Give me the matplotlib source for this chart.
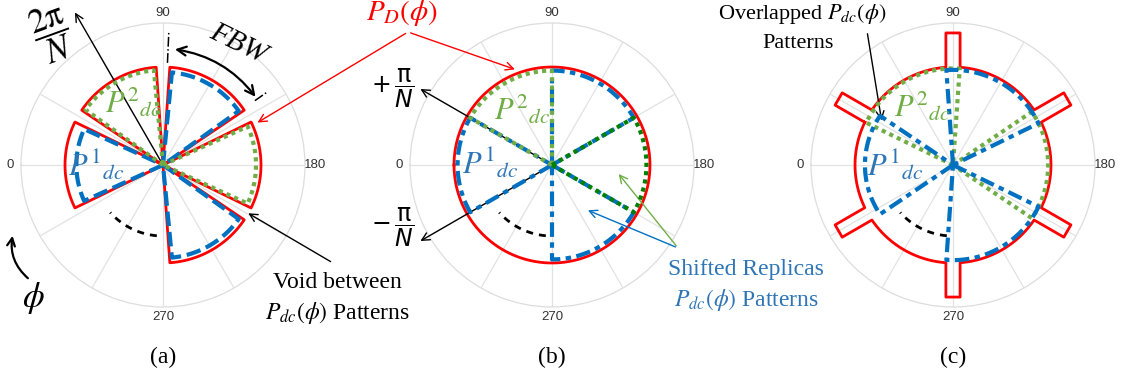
import numpy as np
import matplotlib
matplotlib.use('Agg')
import matplotlib.pyplot as plt

plt.rcParams['font.family'] = ['Liberation Serif', 'DejaVu Serif']
plt.rcParams['mathtext.fontset'] = 'stix'

# ---- data (angles in degrees, radius relative to outer ring = 1) ----
# panel (a): separated sectors, the one at 300 deg is left out
a_blue_centers = [0, 120, 240]
a_blue_radii = [0.61, 0.655, 0.655]
a_green_centers = [60, 180]
a_green_radii = [0.67, 0.655]
a_red_centers = [0, 60, 120, 180, 240]
a_red_radius = 0.69
a_red_width = 52
a_pat_width = 49

# panel (b): shifted replicas filling the circle
b_blue_centers = [0, 120, 240]
b_green_centers = [60, 180]
b_green_colors = ['#70AD47', '#008000']
b_width = 60
b_pat_radius = 0.665
b_red_radius = 0.69

# panel (c): overlapping patterns, red with lobes at the overlaps
c_blue_centers = [0, 120, 240]
c_blue_radii = [0.62, 0.67, 0.67]
c_green_centers = [60, 180]
c_green_radii = [0.68, 0.67]
c_width = 68
c_red_radius = 0.69
c_lobe_angles = [30, 90, 150, 210, 270, 330]
c_lobe_length = 0.93
c_lobe_half = 0.05

# dashed "continues" arc (same in every panel)
cont_arc = (275, 318)
cont_radius = 0.5

grid_angles = list(range(0, 360, 30))
grid_labels = ['0', '', '', '90', '', '', '180', '', '', '270', '', '']

RED = '#FF0000'
BLUE = '#0070C0'
BLUE_TXT = '#2E75B6'
GREEN = '#70AD47'

W, H = 1123, 385


def fx(x, y):
    # pixel position -> figure fraction
    return (x / W, 1 - y / H)


def sector(c, w, r, n=80):
    t = np.linspace(c - w / 2, c + w / 2, n)
    th = np.r_[c - w / 2, t, c + w / 2]
    rr = np.r_[0, np.full(n, r), 0]
    return np.deg2rad(th), rr


def arc(t1, t2, r, n=80):
    t = np.linspace(t1, t2, n)
    return np.deg2rad(t), np.full(n, r)


def lobed_circle(R, lobes, L, h, n=20):
    d = np.degrees(np.arcsin(h / R))
    t0 = np.sqrt(R ** 2 - h ** 2)
    th, rr = [], []
    for i, a in enumerate(lobes):
        tt = np.r_[np.linspace(t0, L, n), np.full(n, L), np.linspace(L, t0, n)]
        ss = np.r_[np.full(n, -h), np.linspace(-h, h, n), np.full(n, h)]
        th.append(a + np.degrees(np.arctan2(ss, tt)))
        rr.append(np.hypot(tt, ss))
        nxt = lobes[(i + 1) % len(lobes)] + (360 if i == len(lobes) - 1 else 0)
        t = np.linspace(a + d, nxt - d, 60)
        th.append(t)
        rr.append(np.full(60, R))
    return np.deg2rad(np.concatenate(th)), np.concatenate(rr)


def setup(ax):
    ax.set_theta_zero_location('W')
    ax.set_theta_direction(-1)
    ax.set_rlim(0, 1)
    ax.set_yticks([])
    ax.set_thetagrids(grid_angles, grid_labels, family='Liberation Sans',
                      fontsize=9.5, color='#333333')
    ax.tick_params(axis='x', pad=-3)
    ax.grid(True, color='#E2E2E2', lw=0.9)
    ax.spines['polar'].set_color('#DDDDDD')
    ax.spines['polar'].set_linewidth(0.9)
    ax.patch.set_alpha(0)
    ax.set_axisbelow(True)


fig = plt.figure(figsize=(11.23, 3.85), dpi=100)
size = 284
axes = []
for cx in [163, 552, 953]:
    axes.append(fig.add_axes([(cx - 142) / W, (H - 165 - 142) / H, size / W, size / H],
                             projection='polar'))
for ax in axes:
    setup(ax)
ax_a, ax_b, ax_c = axes

blue_dash = dict(color=BLUE, lw=3, dashes=(3.5, 1.4))
blue_dashdot = dict(color=BLUE, lw=3, dashes=(3.5, 1.3, 1.3, 1.3))
green_dot = dict(lw=3, dashes=(1, 1))

# ---- (a) ----
for c in a_red_centers:
    ax_a.plot(*sector(c, a_red_width, a_red_radius), color=RED, lw=2, zorder=3)
for c, r in zip(a_blue_centers, a_blue_radii):
    ax_a.plot(*sector(c, a_pat_width, r), zorder=4, **blue_dash)
for c, r in zip(a_green_centers, a_green_radii):
    ax_a.plot(*sector(c, a_pat_width, r), color=GREEN, zorder=4, **green_dot)

# ---- (b) ----
ax_b.plot(*arc(0, 360, b_red_radius, 300), color=RED, lw=2, zorder=3)
for c in b_blue_centers:
    ax_b.plot(*sector(c, b_width, b_pat_radius), zorder=4, **blue_dashdot)
for c, col in zip(b_green_centers, b_green_colors):
    ax_b.plot(*sector(c, b_width, b_pat_radius), color=col, zorder=5, **green_dot)

# ---- (c) ----
ax_c.plot(*lobed_circle(c_red_radius, c_lobe_angles, c_lobe_length, c_lobe_half),
          color=RED, lw=2, zorder=3)
for c, r in zip(c_green_centers, c_green_radii):
    ax_c.plot(*sector(c, c_width, r), color=GREEN, zorder=4, **green_dot)
for c, r in zip(c_blue_centers, c_blue_radii):
    ax_c.plot(*sector(c, c_width, r), zorder=5, **blue_dashdot)

for ax in axes:
    ax.plot(*arc(cont_arc[0], cont_arc[1], cont_radius), color='black', lw=2,
            dashes=(2.5, 2.2), zorder=4)

# ---- annotations ----
thin = dict(arrowstyle='->', lw=1, color='black', mutation_scale=14)

# 2pi/N
ax_a.annotate('', xy=(np.deg2rad(60), 1.26), xytext=(0, 0), arrowprops=thin,
              annotation_clip=False)
fig.text(*fx(52, 34), r'$\dfrac{2\mathrm{\pi}}{N}$', fontsize=25, rotation=20,
         ha='center', va='center')

# FBW
ax_a.plot(np.deg2rad([92.5, 92.5]), [0.72, 0.94], color='black', lw=1.1, ls='-.')
ax_a.plot(np.deg2rad([145, 145]), [0.79, 0.90], color='black', lw=1.1, ls='-.')
ax_a.annotate('', xy=(np.deg2rad(145), 0.81), xytext=(np.deg2rad(94.5), 0.82),
              arrowprops=dict(arrowstyle='<->', lw=1.6, color='black', mutation_scale=16,
                              connectionstyle='arc3,rad=-0.21'),
              annotation_clip=False)
fig.text(*fx(238, 44), 'FBW', fontstyle='italic', fontsize=21, rotation=-26,
         ha='center', va='center')

# phi
fig.text(*fx(33, 298), r'$\phi$', fontsize=25, ha='center', va='center')
fig.add_artist(matplotlib.patches.FancyArrowPatch(
    fx(30, 280), fx(13, 233), transform=fig.transFigure,
    arrowstyle='->', lw=1.6, color='black', mutation_scale=14,
    connectionstyle='arc3,rad=-0.3'))

# void between patterns
ax_a.annotate('', xy=(np.deg2rad(209.5), 0.67), xytext=fx(333, 263),
              textcoords='figure fraction', arrowprops=thin, annotation_clip=False)
fig.text(*fx(337, 283), 'Void between', fontsize=17, ha='center', va='center')
fig.text(*fx(337, 313), r'$P_{dc}(\phi)$ Patterns', fontsize=17, ha='center', va='center')

# P_D label
red_arrow = dict(arrowstyle='->', lw=1, color=RED, mutation_scale=14)
ax_a.annotate('', xy=(np.deg2rad(156), 0.71), xytext=fx(408, 32),
              textcoords='figure fraction', arrowprops=red_arrow, annotation_clip=False)
ax_b.annotate('', xy=(np.deg2rad(70), 0.71), xytext=fx(408, 32),
              textcoords='figure fraction', arrowprops=red_arrow, annotation_clip=False)
fig.text(*fx(402, 13), r'$P_D(\phi)$', color=RED, fontsize=21, ha='center', va='center')

# +- pi/N
for sgn, ypx, txt in [(1, 88, r'$+\,\dfrac{\mathrm{\pi}}{N}$'),
                      (-1, 227, r'$-\,\dfrac{\mathrm{\pi}}{N}$')]:
    ax_b.annotate('', xy=(np.deg2rad(30 * sgn), 1.09), xytext=(0, 0), arrowprops=thin,
                  annotation_clip=False)
    fig.text(*fx(393, ypx), txt, fontsize=17, math_fontfamily='dejavusans',
             ha='center', va='center')

# shifted replicas
ax_b.annotate('', xy=(np.deg2rad(233), 0.39), xytext=fx(678, 248),
              textcoords='figure fraction',
              arrowprops=dict(arrowstyle='->', lw=1, color=BLUE, mutation_scale=14),
              annotation_clip=False)
ax_b.annotate('', xy=(np.deg2rad(186), 0.46), xytext=fx(678, 248),
              textcoords='figure fraction',
              arrowprops=dict(arrowstyle='->', lw=1, color=GREEN, mutation_scale=14),
              annotation_clip=False)
fig.text(*fx(746, 270), 'Shifted Replicas', fontsize=17, color=BLUE_TXT,
         ha='center', va='center')
fig.text(*fx(746, 300), r'$P_{dc}(\phi)$ Patterns', fontsize=17, color=BLUE_TXT,
         ha='center', va='center')

# overlapped
ax_c.annotate('', xy=(np.deg2rad(30.5), 0.58), xytext=fx(867, 31),
              textcoords='figure fraction', arrowprops=thin, annotation_clip=False)
fig.text(*fx(802, 14), r'Overlapped $P_{dc}(\phi)$', fontsize=16, ha='center', va='center')
fig.text(*fx(798, 44), 'Patterns', fontsize=16, ha='center', va='center')

# pattern labels
lab1 = r'$P^{1}{}_{dc}$'
lab2 = r'$P^{2}{}_{dc}$'
for (x1, y1), (x2, y2) in [((96, 166), (133, 103)), ((490, 164), (522, 110)),
                           ((895, 166), (922, 107))]:
    fig.text(*fx(x1, y1), lab1, fontsize=22, color=BLUE_TXT, ha='center', va='center')
    fig.text(*fx(x2, y2), lab2, fontsize=22, color=GREEN, ha='center', va='center')

# captions
for cx, cap in zip([163, 552, 953], ['(a)', '(b)', '(c)']):
    fig.text(*fx(cx, 357), cap, fontsize=17, ha='center', va='center')

fig.savefig('out.png', dpi=100)
